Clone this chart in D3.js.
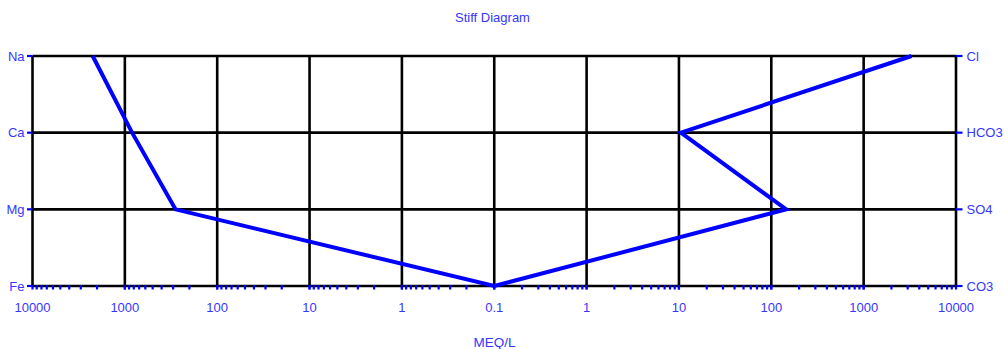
<!DOCTYPE html>
<html>
<head>
<meta charset="utf-8">
<script src="https://cdn.jsdelivr.net/npm/d3@7"></script>
<style>
  html, body { margin: 0; padding: 0; background: #fff; }
  svg { display: block; }
  text { font-family: "Liberation Sans", Arial, sans-serif; fill: #3636ff; }
</style>
</head>
<body>
<svg id="chart" width="1004" height="349"></svg>
<script>
// Cations plotted to the left of centre, anions to the right (meq/L)
const cations = ["Na", "Ca", "Mg", "Fe"];
const cationValues = [2230, 835, 283, 0.1];
const anions = ["Cl", "HCO3", "SO4", "CO3"];
const anionValues = [3300, 10.5, 145, 0.1];
const leftTicks = [10000, 1000, 100, 10, 1];
const rightTicks = [1, 10, 100, 1000, 10000];
const tickLabels = ["10000", "1000", "100", "10", "1", "0.1", "1", "10", "100", "1000", "10000"];
const title = "Stiff Diagram";
const axisTitle = "MEQ/L";

const svg = d3.select("#chart");
const x0 = 32.5, x1 = 956, xc = (x0 + x1) / 2;
const yTop = 56, yBot = 286;

// Two mirrored log scales meeting at 0.1 in the middle
const xLeft = d3.scaleLog().domain([10000, 0.1]).range([x0, xc]);
const xRight = d3.scaleLog().domain([0.1, 10000]).range([xc, x1]);
const y = d3.scalePoint().domain(d3.range(cations.length)).range([yTop, yBot]);

const blue = "#0000ff";

// Grid: horizontal rows
svg.append("g").selectAll("line").data(d3.range(cations.length)).join("line")
  .attr("x1", x0).attr("x2", x1)
  .attr("y1", d => y(d)).attr("y2", d => y(d))
  .attr("stroke", "#000").attr("stroke-width", 2.6);

// Grid: vertical decade lines
const vx = leftTicks.map(v => xLeft(v)).concat([xc], rightTicks.map(v => xRight(v)));
svg.append("g").selectAll("line").data(vx).join("line")
  .attr("x1", d => d).attr("x2", d => d)
  .attr("y1", yTop).attr("y2", yBot)
  .attr("stroke", "#000").attr("stroke-width", 2.6);

// Log ticks (1..9 per decade) along the bottom axis on both sides
const tickPos = [];
[xLeft, xRight].forEach(sc => {
  for (let p = -1; p < 4; p++) {
    for (let m = 1; m <= 10; m++) {
      const v = m * Math.pow(10, p);
      if (v >= 0.1 && v <= 10000) tickPos.push(sc(v));
    }
  }
});
svg.append("g").selectAll("line").data(tickPos).join("line")
  .attr("x1", d => d).attr("x2", d => d)
  .attr("y1", yBot - 1).attr("y2", yBot + 3.5)
  .attr("stroke", blue).attr("stroke-width", 2.2);

// Row ticks at both ends
svg.append("g").selectAll("line").data(d3.range(cations.length)).join("line")
  .attr("x1", x0 - 5.5).attr("x2", x0)
  .attr("y1", d => y(d)).attr("y2", d => y(d))
  .attr("stroke", blue).attr("stroke-width", 2.2);
svg.append("g").selectAll("line").data(d3.range(anions.length)).join("line")
  .attr("x1", x1).attr("x2", x1 + 6.5)
  .attr("y1", d => y(d)).attr("y2", d => y(d))
  .attr("stroke", blue).attr("stroke-width", 2.2);

// Row labels
svg.append("g").selectAll("text").data(cations).join("text")
  .attr("x", 24.5).attr("y", (d, i) => y(i) + 4.6)
  .attr("text-anchor", "end").attr("font-size", 13).text(d => d);
svg.append("g").selectAll("text").data(anions).join("text")
  .attr("x", 966.5).attr("y", (d, i) => y(i) + 4.6)
  .attr("text-anchor", "start").attr("font-size", 13).text(d => d);

// Bottom tick labels
svg.append("g").selectAll("text").data(tickLabels).join("text")
  .attr("x", (d, i) => vx[i]).attr("y", 311.5)
  .attr("text-anchor", "middle").attr("font-size", 13).text(d => d);

// Stiff profile: cations top-down, then anions bottom-up
const pts = cations.map((c, i) => [xLeft(cationValues[i]), y(i)]);
for (let i = anions.length - 1; i >= 0; i--) pts.push([xRight(anionValues[i]), y(i)]);
svg.append("path")
  .attr("d", d3.line()(pts))
  .attr("fill", "none").attr("stroke", blue)
  .attr("stroke-width", 4).attr("stroke-linejoin", "miter");

// Titles
svg.append("text").attr("x", 492.5).attr("y", 21.5)
  .attr("text-anchor", "middle").attr("font-size", 13).text(title);
svg.append("text").attr("x", 494.5).attr("y", 347)
  .attr("text-anchor", "middle").attr("font-size", 13.5).text(axisTitle);
</script>
</body>
</html>
